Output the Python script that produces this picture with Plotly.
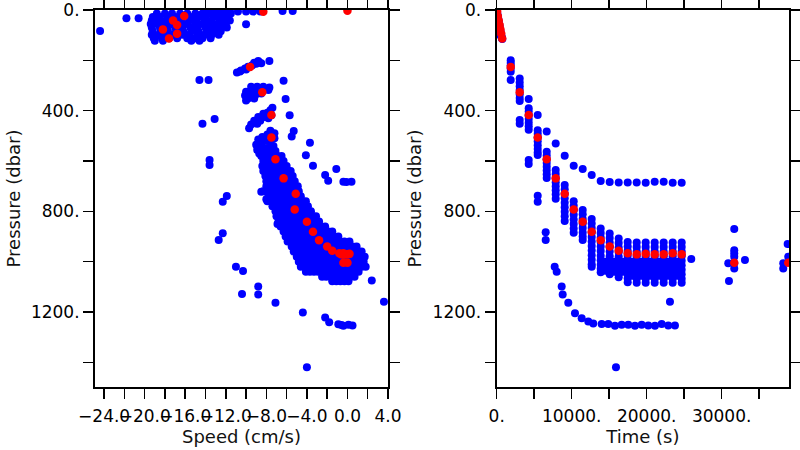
import plotly.graph_objects as go

FONT = "DejaVu Sans"
BLUE = "#0000ff"
RED = "#ff0000"

# ---------------- data: left panel (speed vs pressure) ----------------
# near-surface blob: one pressure per row, speeds listed per row
surf_p = [6, 14, 28, 42, 56, 70, 84, 98, 112, 122]
surf_speeds = [
    [-14.0, -13.2, -12.4, -11.6, -10.8, -10.0, -9.3, -8.6],
    [-18.8, -18.0, -17.3, -16.5, -15.8, -15.0, -14.3, -13.5, -12.8, -12.1, -11.5],
    [-19.2, -18.5, -17.7, -17.0, -16.2, -15.5, -14.7, -14.0, -13.2, -12.5, -11.8],
    [-19.3, -18.6, -17.9, -17.1, -16.4, -15.6, -14.9, -14.1, -13.4, -12.6, -11.9, -11.6],
    [-19.4, -18.7, -18.0, -17.3, -16.5, -15.8, -15.0, -14.3, -13.5, -12.8, -12.0],
    [-19.3, -18.5, -17.8, -17.0, -16.3, -15.5, -14.8, -14.0, -13.3, -12.6, -11.9],
    [-19.2, -18.4, -17.7, -16.9, -16.2, -15.4, -14.7, -13.9, -13.2, -12.5],
    [-19.3, -18.6, -17.8, -17.1, -16.3, -15.6, -14.8, -14.1, -13.4, -12.7],
    [-19.1, -18.3, -17.6, -16.8, -15.8, -15.0, -14.3, -13.5],
    [-19.0, -18.2, -15.4, -14.6],
]

# mid-depth clusters (speed, pressure)
clus_speed = [-10.9, -10.5, -10.1, -9.8, -9.4, -9.0, -8.7, -8.5, -8.8, -9.2, -10.0, -10.6,
              -9.5, -8.9, -8.3, -7.7, -10.0, -9.5, -8.9, -8.3, -7.8, -10.1, -9.6, -9.0, -8.5, -9.8, -9.2, -10.0,
              -7.4, -7.6, -7.9, -8.3, -7.5, -8.8, -8.2, -7.8, -9.2, -8.6, -9.5, -8.9, -9.7,
              -7.6, -7.2, -7.9, -8.4, -7.2, -8.8, -8.2, -7.6, -9.0, -8.5, -8.9, -8.7, -8.0, -7.3]
clus_pres = [248, 240, 232, 225, 220, 214, 208, 212, 203, 210, 236, 244,
             305, 305, 305, 308, 325, 320, 318, 318, 318, 340, 338, 335, 332, 352, 352, 360,
             388, 398, 408, 412, 418, 425, 425, 430, 440, 440, 455, 452, 470,
             480, 490, 495, 505, 510, 515, 520, 525, 535, 540, 555, 570, 548, 540]

# main descending band: one pressure per row, speeds listed per row
band_p = [560, 580, 600, 620, 640, 660, 680, 700, 720, 740, 760, 780, 800, 820, 840, 860,
          880, 900, 920, 940, 960, 980, 1000, 1020, 1040, 1060, 1078]
band_speeds = [
    [-8.7, -8.3, -7.9, -7.5, -7.1],
    [-8.5, -8.1, -7.7, -7.3, -6.9, -6.5],
    [-8.3, -7.9, -7.5, -7.1, -6.7, -6.3],
    [-8.4, -8.0, -7.6, -7.2, -6.8, -6.4, -6.0],
    [-8.3, -7.9, -7.5, -7.1, -6.7, -6.3, -5.9, -5.6],
    [-8.1, -7.7, -7.3, -6.9, -6.5, -6.1, -5.7, -5.4],
    [-8.0, -7.6, -7.2, -6.8, -6.4, -6.0, -5.6, -5.2],
    [-8.0, -7.6, -7.2, -6.8, -6.4, -6.0, -5.6, -5.2, -4.9],
    [-8.3, -7.6, -7.2, -6.8, -6.4, -6.0, -5.6, -5.2, -4.8],
    [-7.8, -7.4, -7.0, -6.6, -6.2, -5.8, -5.4, -5.0, -4.6],
    [-7.9, -7.2, -6.8, -6.4, -6.0, -5.6, -5.2, -4.8, -4.4, -4.1],
    [-7.4, -7.0, -6.6, -6.2, -5.8, -5.4, -5.0, -4.6, -4.2, -3.9],
    [-7.1, -6.7, -6.3, -5.9, -5.5, -5.1, -4.7, -4.3, -3.9, -3.6],
    [-7.0, -6.6, -6.2, -5.8, -5.4, -5.0, -4.6, -4.2, -3.8, -3.4, -3.1],
    [-6.8, -6.4, -6.0, -5.6, -5.2, -4.8, -4.4, -4.0, -3.6, -3.2, -2.8],
    [-6.6, -6.2, -5.8, -5.4, -5.0, -4.6, -4.2, -3.8, -3.4, -3.0, -2.6, -2.2],
    [-6.3, -5.9, -5.5, -5.1, -4.7, -4.3, -3.9, -3.5, -3.1, -2.7, -2.3, -1.9, -1.5],
    [-6.1, -5.7, -5.3, -4.9, -4.5, -4.1, -3.7, -3.3, -2.9, -2.5, -2.1, -1.7, -1.3, -0.9],
    [-5.9, -5.5, -5.1, -4.7, -4.3, -3.9, -3.5, -3.1, -2.7, -2.3, -1.9, -1.5, -1.1, -0.7, -0.3, 0.2],
    [-5.5, -5.1, -4.7, -4.3, -3.9, -3.5, -3.1, -2.7, -2.3, -1.9, -1.5, -1.1, -0.7, -0.3, 0.1, 0.5, 0.9],
    [-5.3, -4.9, -4.5, -4.1, -3.7, -3.3, -2.9, -2.5, -2.1, -1.7, -1.3, -0.9, -0.5, -0.1, 0.3, 0.7, 1.1, 1.4],
    [-5.0, -4.6, -4.2, -3.8, -3.4, -3.0, -2.6, -2.2, -1.8, -1.4, -1.0, -0.6, -0.2, 0.2, 0.6, 1.0, 1.4, 1.7],
    [-4.8, -4.4, -4.0, -3.6, -3.2, -2.8, -2.4, -2.0, -1.6, -1.2, -0.8, -0.4, 0.0, 0.4, 0.8, 1.2, 1.6],
    [-4.6, -4.2, -3.8, -3.4, -3.0, -2.6, -2.2, -1.8, -1.4, -1.0, -0.6, -0.2, 0.2, 0.6, 1.0, 1.4, 1.8],
    [-4.1, -3.7, -3.3, -2.9, -2.5, -2.1, -1.7, -1.3, -0.9, -0.5, -0.1, 0.3, 0.7, 1.1],
    [-2.5, -2.1, -1.7, -1.3, -0.9, -0.5, -0.1, 0.3, 0.7],
    [-1.5, -1.1, -0.7, -0.3, 0.1],
]

# scattered points, left panel
out_speed = [-24.4, -21.8, -20.6, -10.0, -6.4, -5.4, -7.7, -14.6, -13.7, -6.3, -6.1,
             -5.7, -5.3, -5.5, -14.3, -13.1, -3.7, -4.1, -3.4, -13.6, -13.6,
             -2.2, -1.9, -1.1, -0.4, -0.1, 0.4, -12.3, -11.9, -12.7, -12.3,
             -11.0, -10.3, -8.8, -8.8, -10.4, -7.1, -4.4, -2.2, -1.8,
             -0.9, -0.6, -0.4, 0.1, 0.5, -4.0, 2.4, 3.6, -8.5, -8.0, -6.9]
out_pres = [83, 33, 33, 57, 4, 4, 203, 278, 278, 281, 354,
            418, 481, 503, 452, 433, 527, 577, 619, 596, 616,
            656, 678, 632, 682, 683, 682, 762, 739, 914, 887,
            1020, 1037, 1099, 1130, 1128, 1163, 1202, 1222, 1241,
            1249, 1252, 1255, 1251, 1254, 1420, 1075, 1159, 722, 752, 850]

# ---------------- data: right panel (time vs pressure) ----------------
desc_time = [0, 60, 120, 180, 240, 300, 360, 420, 480, 540, 600, 660, 700, 750, 100, 200, 300, 400, 500]
desc_pres = [0, 10, 20, 30, 40, 50, 60, 70, 80, 90, 100, 106, 112, 115, 25, 45, 65, 85, 100]

col_time = [1870, 3070, 4270, 5470, 6670, 7870, 9070, 10270, 11470, 12670,
            13870, 15070, 16270, 17470, 18670, 19870, 21070, 22270, 23470, 24670]
col_pres = [
    [200, 210, 220, 232, 245, 278],
    [272, 288, 303, 318, 335, 350, 362, 437, 452],
    [354, 390, 403, 418, 433, 448, 462, 476, 596, 612],
    [417, 478, 492, 507, 522, 537, 552, 566, 576, 738, 762],
    [483, 563, 578, 593, 608, 623, 638, 653, 668],
    [530, 636, 652, 668, 684, 700, 716, 732, 750],
    [579, 695, 712, 730, 748, 766, 784, 802, 820, 838],
    [619, 760, 778, 796, 814, 832, 850, 868, 885],
    [632, 795, 812, 830, 848, 866, 884, 900, 914],
    [656, 830, 848, 866, 884, 902, 920, 938, 956, 974, 992, 1010, 1020],
    [679, 868, 886, 904, 922, 940, 958, 976, 994, 1012, 1028, 1042],
    [683, 888, 906, 924, 942, 960, 978, 996, 1014, 1032, 1050],
    [685, 908, 926, 944, 962, 980, 998, 1016, 1034, 1050, 1062],
    [685, 922, 940, 958, 976, 994, 1012, 1030, 1048, 1066, 1082],
    [685, 924, 942, 960, 978, 996, 1014, 1032, 1050, 1068, 1084],
    [686, 924, 942, 960, 978, 996, 1014, 1032, 1050, 1068, 1084],
    [682, 924, 942, 960, 978, 996, 1014, 1032, 1050, 1068, 1084],
    [682, 924, 942, 960, 978, 996, 1014, 1032, 1050, 1068, 1084],
    [686, 924, 942, 960, 978, 996, 1014, 1032, 1050, 1068, 1084],
    [686, 924, 942, 960, 978, 996, 1014, 1032, 1050, 1068, 1084],
]

fill_time = [14470, 14470, 14470, 15670, 15670, 15670, 16870, 16870, 16870, 18070, 18070, 18070, 18070,
             19270, 19270, 19270, 19270, 20470, 20470, 20470, 20470, 21670, 21670, 21670, 21670,
             22870, 22870, 22870, 22870, 24070, 24070, 24070, 24070]
fill_pres = [1000, 1020, 1036, 1000, 1020, 1040, 1000, 1020, 1040, 1000, 1020, 1040, 1056,
             1000, 1020, 1040, 1056, 1000, 1020, 1040, 1056, 1000, 1020, 1040, 1056,
             1000, 1020, 1040, 1056, 1000, 1020, 1040, 1056]

extra_time = [6533, 6533, 7733, 8000, 8667, 8800, 9547, 10440, 11333, 12213, 12880, 14000, 14880,
              15773, 16667, 17547, 18440, 19333, 20213, 21107, 22000, 22880, 23773,
              15907, 23107, 25947, 31680, 31680, 31680, 31680, 31680, 31680, 30973, 33107, 30880,
              38800, 38213, 38213, 38880]
extra_pres = [883, 914, 1020, 1040, 1099, 1130, 1163, 1205, 1225, 1238, 1246, 1248, 1248,
              1255, 1251, 1251, 1255, 1251, 1254, 1255, 1248, 1254, 1254,
              1420, 1159, 989, 870, 955, 967, 980, 1006, 1027, 1077, 993, 1006,
              930, 1006, 1027, 980]

# ---------------- data: mean profile (red, both panels) ----------------
red_time = [20, 60, 155, 270, 390, 500, 610, 730, 1870, 3070, 4270, 5470, 6670, 7870, 9070, 10270,
            11470, 12670, 13870, 15070, 16270, 17470, 18670, 19870, 21070, 22270, 23470, 24670,
            31680, 38880]
red_speed = [0.0, -8.3, -16.1, -17.2, -16.8, -18.2, -16.8, -17.6, -9.6, -8.4, -7.5, -7.5, -7.1, -6.3,
             -5.1, -5.2, -4.0, -3.4, -2.8, -2.0, -1.5, -0.8, -0.4, 0.2, -0.6, -0.3, -0.4, 0.0,
             -0.4, 0.0]
red_pres = [3, 7, 24, 42, 60, 77, 94, 113, 226, 327, 417, 507, 593, 669, 730, 793, 841, 881, 915,
            940, 957, 967, 971, 969, 971, 971, 967, 971, 1004, 1004]

# tick labels
speed_ticks = [-24, -22, -20, -18, -16, -14, -12, -10, -8, -6, -4, -2, 0, 2, 4]
speed_labels = ["\u221224.0", "", "\u221220.0", "", "\u221216.0", "", "\u221212.0", "",
                "\u22128.0", "", "\u22124.0", "", "0.0", "", "4.0"]
time_ticks = [0, 5000, 10000, 15000, 20000, 25000, 30000, 35000]
time_labels = ["0.", "", "10000.", "", "20000.", "", "30000.", ""]
pres_ticks = [0, 200, 400, 600, 800, 1000, 1200, 1400]
pres_labels = ["0.", "", "400.", "", "800.", "", "1200.", ""]

# ---------------- assemble ----------------
lb_x, lb_y = [], []
for p, row in zip(surf_p, surf_speeds):
    lb_x += row
    lb_y += [p] * len(row)
lb_x += clus_speed
lb_y += clus_pres
for p, row in zip(band_p, band_speeds):
    lb_x += row
    lb_y += [p] * len(row)
lb_x += out_speed
lb_y += out_pres

rb_x, rb_y = list(desc_time), list(desc_pres)
for t, col in zip(col_time, col_pres):
    rb_x += [t] * len(col)
    rb_y += col
rb_x += fill_time + extra_time
rb_y += fill_pres + extra_pres

fig = go.Figure()
mk_b = dict(color=BLUE, size=8, line=dict(width=0))
mk_r = dict(color=RED, size=8.5, line=dict(width=0))
fig.add_trace(go.Scatter(x=lb_x, y=lb_y, mode="markers", marker=mk_b, xaxis="x", yaxis="y",
                         showlegend=False, hoverinfo="skip"))
fig.add_trace(go.Scatter(x=red_speed, y=red_pres, mode="markers", marker=mk_r, xaxis="x", yaxis="y",
                         showlegend=False, hoverinfo="skip"))
fig.add_trace(go.Scatter(x=rb_x, y=rb_y, mode="markers", marker=mk_b, xaxis="x2", yaxis="y2",
                         showlegend=False, hoverinfo="skip"))
fig.add_trace(go.Scatter(x=red_time, y=red_pres, mode="markers", marker=mk_r, xaxis="x2", yaxis="y2",
                         showlegend=False, hoverinfo="skip"))

tickfont = dict(family=FONT, size=17, color="black")
titlefont = dict(family=FONT, size=18, color="#111111")
common = dict(showline=True, linecolor="black", linewidth=2, mirror="ticks", ticks="outside",
              ticklen=10, tickwidth=1.5, tickcolor="black", showgrid=False, zeroline=False,
              tickfont=tickfont, tickangle=0, automargin=False, tickmode="array")

fig.update_layout(
    width=800, height=450,
    margin=dict(l=95, r=11, t=10, b=63),
    paper_bgcolor="white", plot_bgcolor="white",
    hovermode=False,
    xaxis=dict(domain=[0, 0.4222], range=[-24.9, 4.0], tickvals=speed_ticks, ticktext=speed_labels,
               anchor="y", ticklabelstandoff=3,
               title=dict(text="Speed (cm/s)", font=titlefont, standoff=5), **common),
    yaxis=dict(domain=[0, 1], range=[1498, 0], tickvals=pres_ticks, ticktext=pres_labels,
               anchor="x", title=dict(text="Pressure (dbar)", font=titlefont, standoff=6), **common),
    xaxis2=dict(domain=[0.5788, 1], range=[0, 38980], tickvals=time_ticks, ticktext=time_labels,
                anchor="y2", ticklabelstandoff=3,
                title=dict(text="Time (s)", font=titlefont, standoff=5), **common),
    yaxis2=dict(domain=[0, 1], range=[1498, 0], tickvals=pres_ticks, ticktext=pres_labels,
                anchor="x2", title=dict(text="Pressure (dbar)", font=titlefont, standoff=6), **common),
)

fig.write_html(
    "out.html",
    config={"displayModeBar": False, "staticPlot": True},
    post_script="document.body.style.margin='0px';document.body.style.padding='0px';"
                "document.documentElement.style.overflow='hidden';",
)
